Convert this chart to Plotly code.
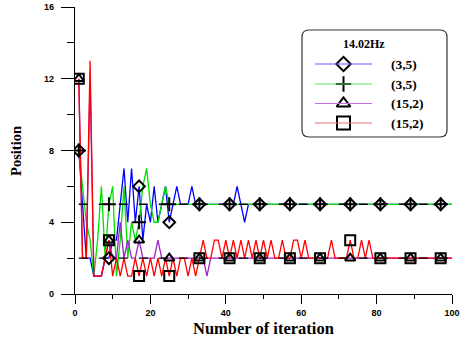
import plotly.graph_objects as go

iterations = list(range(1, 101))

blue_35 = [8, 5, 2, 2, 1, 1, 1, 2, 2, 3,
           3, 5, 7, 4, 7, 4, 6, 3, 5, 4,
           6, 4, 5, 6, 4, 5, 6, 5, 5, 5,
           6, 5, 5, 5, 5, 5, 5, 5, 5, 5,
           5, 5, 6, 5, 4] + [5] * 55
green_35 = [8, 6, 4, 3, 1, 3, 6, 2, 5, 6,
            1, 3, 6, 2, 4, 3, 4, 6, 7, 5,
            4, 4, 5, 6, 5, 5] + [5] * 74
purple_152 = [12, 2, 2, 12, 1, 1, 1, 2, 3, 2,
              2, 4, 2, 3, 2, 2, 3, 2, 2, 2,
              2, 3, 2, 2, 2, 2, 2, 2, 2, 2,
              2, 2, 2, 2, 1] + [2] * 65
red_152 = [12, 2, 2, 13, 1, 1, 1, 2, 3, 1,
           2, 1, 2, 1, 1, 2, 1, 2, 1, 2,
           1, 2, 1, 2, 1, 2, 1, 2, 2, 1,
           2, 1, 2, 3, 2, 2, 3, 3, 2, 3,
           2, 3, 2, 3, 2, 3, 2, 3, 2, 3,
           2, 3, 2, 2, 3, 2, 2, 3, 3, 2,
           3, 2, 2, 2, 2, 2, 2, 3, 2, 2,
           2, 2, 3, 2, 2, 3, 2, 3] + [2] * 22
target_levels = [5, 2]

series_names = ["(3,5)", "(3,5)", "(15,2)", "(15,2)"]
legend_title = "14.02Hz"
x_ticks = [0, 20, 40, 60, 80, 100]
y_ticks = [0, 4, 8, 12, 16]

line_colors = ["#0000FF", "#00E000", "#A020D0", "#FF0000"]
legend_line_colors = ["#6060FF", "#60E060", "#C070E0", "#F07070"]
symbols = ["diamond-open", "cross-thin-open", "triangle-up-open", "square-open"]
sizes = [9, 10, 9, 10]
legend_sizes = [11, 11, 12, 13]
all_series = [blue_35, green_35, purple_152, red_152]

fig = go.Figure()

for vals, col in zip(all_series, line_colors):
    fig.add_trace(go.Scatter(x=iterations, y=vals, mode="lines",
                             line=dict(color=col, width=1.3),
                             showlegend=False, hoverinfo="skip"))

for lvl in target_levels:
    fig.add_trace(go.Scatter(x=[iterations[0], iterations[-1]], y=[lvl, lvl], mode="lines",
                             line=dict(color="black", width=1.4, dash="9px,11px"),
                             showlegend=False, hoverinfo="skip"))

for vals, sym, sz in zip(all_series, symbols, sizes):
    fig.add_trace(go.Scatter(x=iterations[0::8], y=vals[0::8], mode="markers",
                             marker=dict(symbol=sym, size=sz, color="black",
                                         line=dict(color="black", width=2)),
                             showlegend=False, hoverinfo="skip"))

# Legend drawn manually (pixel-coordinate overlay axes)
box_l, box_r, box_t, box_b, rad = 302, 447, 30, 137, 7
path = (f"M {box_l+rad},{box_t} L {box_r-rad},{box_t} Q {box_r},{box_t} {box_r},{box_t+rad} "
        f"L {box_r},{box_b-rad} Q {box_r},{box_b} {box_r-rad},{box_b} "
        f"L {box_l+rad},{box_b} Q {box_l},{box_b} {box_l},{box_b-rad} "
        f"L {box_l},{box_t+rad} Q {box_l},{box_t} {box_l+rad},{box_t} Z")
fig.add_shape(type="path", path=path, xref="x2", yref="y2",
              line=dict(color="#333333", width=1.2), fillcolor="white", layer="below")

entry_y = [64, 84, 103.5, 123]
for yy, col, sym, sz, name in zip(entry_y, legend_line_colors, symbols, legend_sizes, series_names):
    fig.add_shape(type="line", xref="x2", yref="y2", x0=315, x1=372, y0=yy, y1=yy,
                  line=dict(color=col, width=1.2))
    fig.add_trace(go.Scatter(x=[343.5], y=[yy], xaxis="x2", yaxis="y2", mode="markers",
                             marker=dict(symbol=sym, size=sz, color="black",
                                         line=dict(color="black", width=2)),
                             showlegend=False, hoverinfo="skip"))
    fig.add_annotation(x=389, y=yy, xref="x2", yref="y2", text=f"<b>{name}</b>",
                       showarrow=False, xanchor="left", yanchor="middle",
                       font=dict(family="Liberation Serif", size=13.5, color="black"))

fig.add_annotation(x=364, y=44, xref="x2", yref="y2", text=f"<b>{legend_title}</b>",
                   showarrow=False, xanchor="center", yanchor="middle",
                   font=dict(family="Liberation Serif", size=12, color="black"))

# axis titles
fig.add_annotation(x=0.5, y=-0.1185, xref="paper", yref="paper", yanchor="middle",
                   text="<b>Number of iteration</b>", showarrow=False,
                   font=dict(family="Liberation Serif", size=16.5, color="black"))
fig.add_annotation(x=-0.158, y=0.5, xref="paper", yref="paper", textangle=-90,
                   text="<b>Position</b>", showarrow=False, xanchor="center", yanchor="middle",
                   font=dict(family="Liberation Serif", size=14.5, color="black"))

tickfont = dict(family="Liberation Sans", size=9, color="black", weight="bold")
fig.update_layout(
    width=460, height=339,
    margin=dict(l=75, r=8, t=7, b=45, autoexpand=False),
    paper_bgcolor="white", plot_bgcolor="white",
    showlegend=False,
    xaxis=dict(range=[0, 100], tickvals=x_ticks, ticks="outside", ticklen=9, tickwidth=1.2,
               tickcolor="black", showline=True, linecolor="black", linewidth=1.2,
               showgrid=False, zeroline=False, tickfont=tickfont, ticklabelstandoff=1,
               automargin=False,
               minor=dict(dtick=10, ticks="outside", ticklen=4, tickcolor="black", tickwidth=1.2, showgrid=False)),
    yaxis=dict(range=[0, 16], tickvals=y_ticks, ticks="outside", ticklen=13, tickwidth=1.2,
               tickcolor="black", showline=True, linecolor="black", linewidth=1.2,
               showgrid=False, zeroline=False, tickfont=tickfont, ticklabelstandoff=5,
               automargin=False,
               minor=dict(dtick=2, ticks="outside", ticklen=7, tickcolor="black", tickwidth=1.2, showgrid=False)),
    xaxis2=dict(range=[75, 452], overlaying="x", anchor="y2", visible=False, fixedrange=True),
    yaxis2=dict(range=[294, 7], overlaying="y", anchor="x2", visible=False, fixedrange=True),
)

fig.write_html("out.html")
